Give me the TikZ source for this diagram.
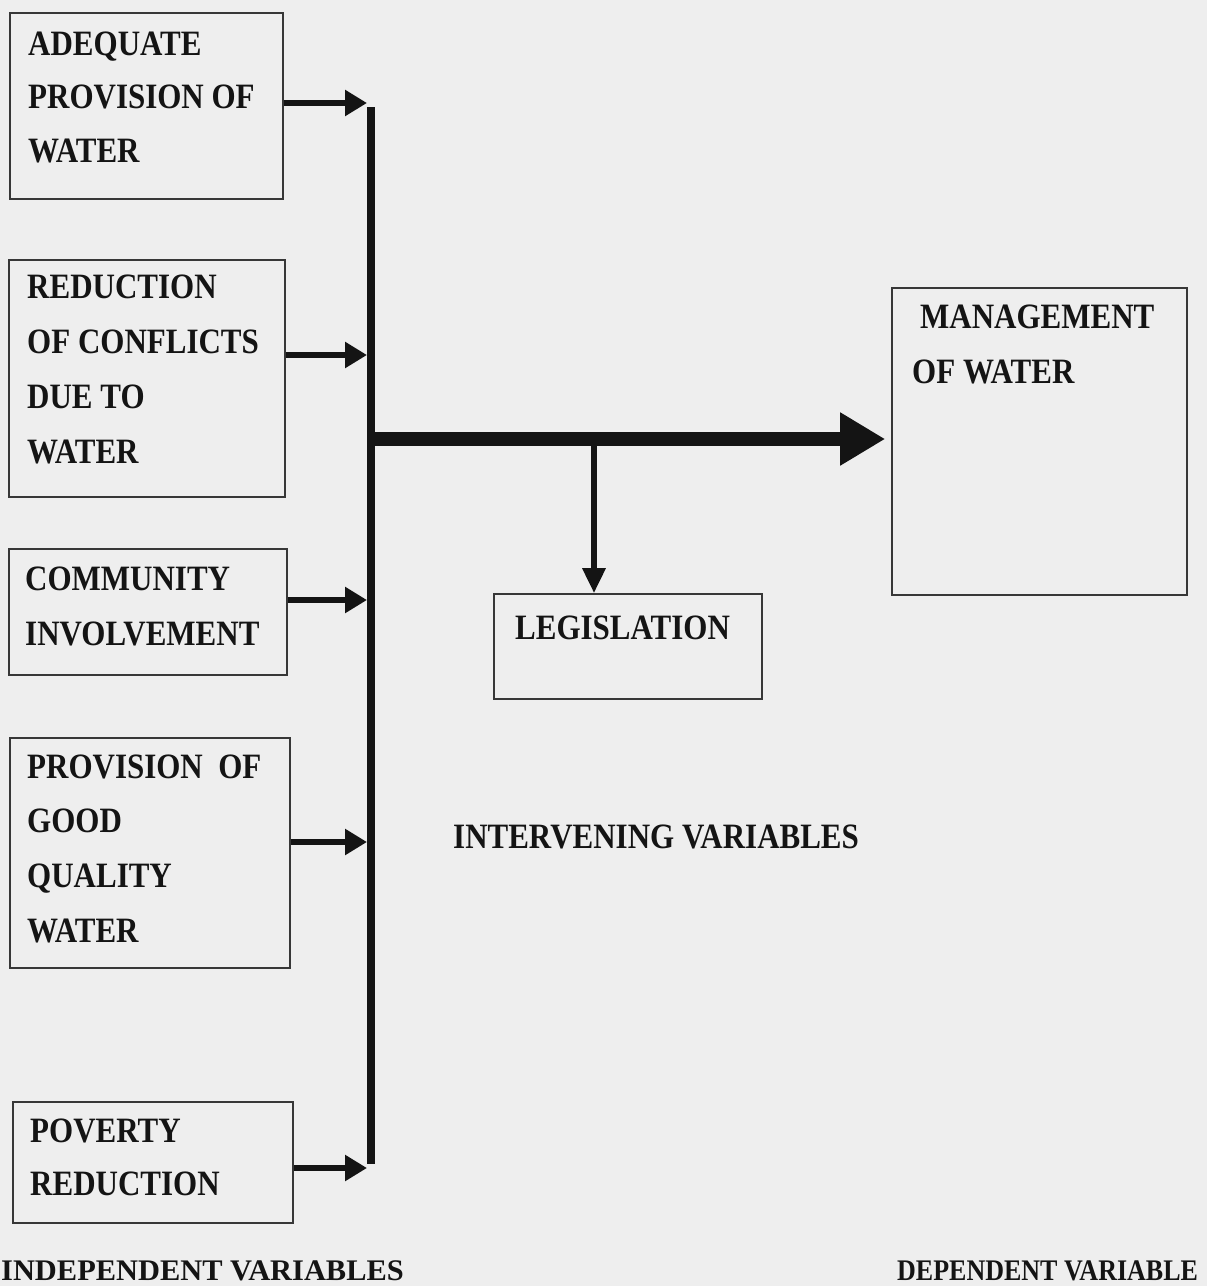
\documentclass[tikz,border=0pt]{standalone}
\usepackage{fontspec}
\setmainfont{Liberation Serif}
\usetikzlibrary{arrows.meta}
\newcommand{\Ls}[1]{\scalebox{1}[1.15]{#1}}
\definecolor{ink}{HTML}{141414}
\definecolor{paper}{HTML}{EEEEEE}
\tikzset{
  box/.style={draw=ink!85, line width=1.6pt, inner sep=0pt},
  boxtext/.style={inner sep=0pt, anchor=north west, align=left, text=ink,
    font=\bfseries\fontsize{31}{54.5}\selectfont},
  lbl/.style={inner sep=0pt, anchor=base west, text=ink,
    font=\bfseries\fontsize{31}{37}\selectfont},
  foot/.style={inner sep=0pt, anchor=base west, text=ink,
    font=\bfseries\fontsize{26}{30}\selectfont},
  feed/.style={draw=ink, line width=6pt, shorten >=4pt,
    -{Triangle[length=22pt,width=25pt]}},
  bus/.style={draw=ink, line width=8pt},
  mainarrow/.style={draw=ink, line width=14pt, shorten >=6pt,
    -{Triangle[length=45pt,width=50pt]}},
  legarrow/.style={draw=ink, line width=6pt,
    -{Triangle[length=25pt,width=22pt]}}
}
\begin{document}
\begin{tikzpicture}[x=1pt,y=-1pt]
\fill[paper] (0,0) rectangle (1207,1286);
\useasboundingbox (0,0) rectangle (1207,1286);

% boxes
\node[box, minimum width=273pt, minimum height=186pt] (b1) at (146.5,106) {};
\node[box, minimum width=276pt, minimum height=237pt] (b2) at (147,378.5) {};
\node[box, minimum width=278pt, minimum height=126pt] (b3) at (148,612) {};
\node[box, minimum width=280pt, minimum height=230pt] (b4) at (150,853) {};
\node[box, minimum width=280pt, minimum height=121pt] (b5) at (153,1162.5) {};
\node[box, minimum width=295pt, minimum height=307pt] (mg) at (1039.5,441.5) {};
\node[box, minimum width=268pt, minimum height=105pt] (leg) at (628,646.5) {};

% box texts
\node[boxtext, font=\bfseries\fontsize{31}{53.5}\selectfont] (t1) at (28,31.4)
  {\Ls{ADEQUATE}\\\Ls{PROVISION OF}\\\Ls{WATER}};
\node[boxtext, font=\bfseries\fontsize{31}{55}\selectfont] (t2) at (27,274.4)
  {\Ls{REDUCTION}\\\Ls{OF CONFLICTS}\\\Ls{DUE TO}\\\Ls{WATER}};
\node[boxtext, font=\bfseries\fontsize{31}{55}\selectfont] (t3) at (25,566.4)
  {\Ls{COMMUNITY}\\\Ls{INVOLVEMENT}};
\node[boxtext, font=\bfseries\fontsize{31}{54.7}\selectfont] (t4) at (27,754.4)
  {\Ls{PROVISION\ \ OF}\\\Ls{GOOD}\\\Ls{QUALITY}\\\Ls{WATER}};
\node[boxtext, font=\bfseries\fontsize{31}{53}\selectfont] (t5) at (30,1118.4)
  {\Ls{POVERTY}\\\Ls{REDUCTION}};
\node[lbl] (m1) at (920,328) {\Ls{MANAGEMENT}};
\node[lbl] (m2) at (912,383) {\Ls{OF WATER}};
\node[lbl] (lt) at (515,639) {\Ls{LEGISLATION}};
\node[lbl] (iv) at (453,848) {\Ls{INTERVENING VARIABLES}};
\node[foot] (indep) at (1,1280) {\scalebox{1.17}[1.15]{INDEPENDENT VARIABLES}};
\node[foot] (dep) at (897,1280) {\scalebox{1}[1.15]{DEPENDENT VARIABLE}};

% bus coordinates
\coordinate (a1) at (371,103);
\coordinate (a2) at (371,355);
\coordinate (a3) at (371,600);
\coordinate (a4) at (371,842);
\coordinate (a5) at (371,1168);
\coordinate (j) at (371,439);
\coordinate (lj) at (594,446);

% vertical bus
\draw[bus] ([yshift=-4pt]a1) -- ([yshift=4pt]a5);

% feeder arrows
\draw[feed] (b1.east |- a1) -- (a1);
\draw[feed] (b2.east |- a2) -- (a2);
\draw[feed] (b3.east |- a3) -- (a3);
\draw[feed] (b4.east |- a4) -- (a4);
\draw[feed] (b5.east |- a5) -- (a5);

% main arrow to dependent variable
\draw[mainarrow] ([xshift=-4pt]j) -- (mg.west |- j);

% arrow to legislation
\draw[legarrow] (lj) -- (lj |- leg.north);
\end{tikzpicture}
\end{document}
